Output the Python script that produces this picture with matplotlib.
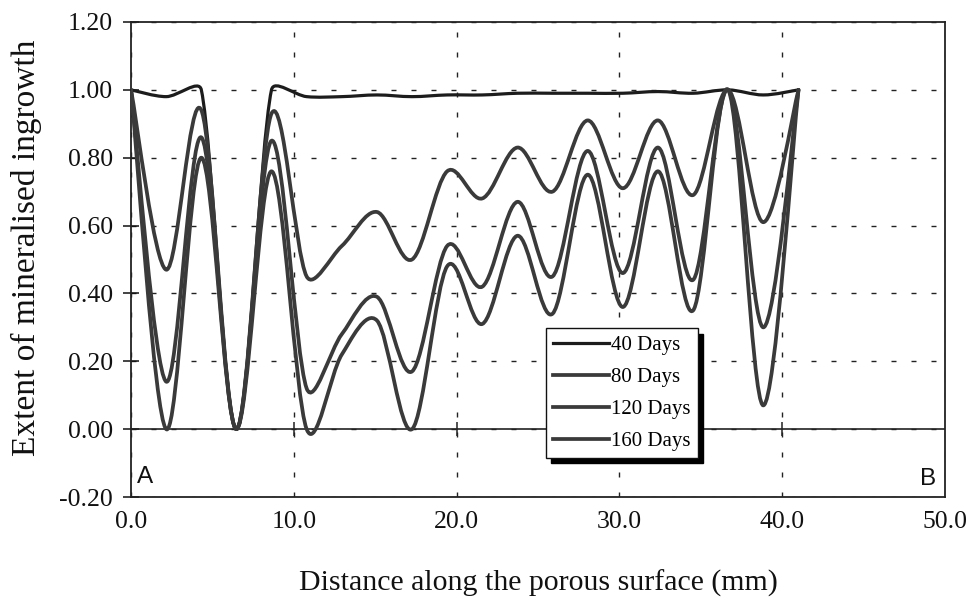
import numpy as np
import matplotlib
matplotlib.use('Agg')
import matplotlib.pyplot as plt
from matplotlib.path import Path
from matplotlib.patches import PathPatch
from matplotlib.lines import Line2D

# measured points along the surface (mm) and ingrowth extent per period
distance = [0.0, 2.16, 4.32, 6.47, 8.63, 10.79, 12.95, 15.11, 17.26, 19.42,
            21.58, 23.74, 25.89, 28.05, 30.21, 32.37, 34.53, 36.68, 38.84, 41.0]
days_40 = [1.00, 0.98, 1.00, 0.00, 1.00, 0.98, 0.98, 0.985, 0.98, 0.985,
           0.985, 0.99, 0.99, 0.99, 0.99, 0.995, 0.99, 1.00, 0.985, 1.00]
days_80 = [1.00, 0.47, 0.94, 0.00, 0.93, 0.45, 0.54, 0.64, 0.50, 0.76,
           0.68, 0.83, 0.70, 0.91, 0.71, 0.91, 0.69, 1.00, 0.61, 1.00]
days_120 = [1.00, 0.14, 0.86, 0.00, 0.85, 0.12, 0.28, 0.39, 0.17, 0.54,
            0.42, 0.67, 0.45, 0.82, 0.46, 0.83, 0.44, 1.00, 0.30, 1.00]
days_160 = [1.00, 0.00, 0.80, 0.00, 0.76, 0.00, 0.22, 0.32, 0.00, 0.48,
            0.31, 0.57, 0.34, 0.75, 0.36, 0.76, 0.35, 1.00, 0.07, 1.00]
series_labels = ['40 Days', '80 Days', '120 Days', '160 Days']
x_ticks = [0, 10, 20, 30, 40, 50]
y_ticks = [-0.2, 0.0, 0.2, 0.4, 0.6, 0.8, 1.0, 1.2]

serif = 'Liberation Serif'
plt.rcParams['font.family'] = [serif, 'DejaVu Serif']


def smooth_path(ax, xs, ys):
    # spreadsheet-style bezier smoothing through the points
    pts = np.column_stack([xs, ys]).astype(float)
    disp = ax.transData.transform(pts)
    n = len(pts)

    def dist(a, b):
        return np.hypot(*(disp[a] - disp[b]))

    verts = [pts[0]]
    codes = [Path.MOVETO]
    for i in range(n - 1):
        i0, i1, i2, i3 = max(i - 1, 0), i, i + 1, min(i + 2, n - 1)
        d12 = dist(i1, i2)
        d02 = dist(i0, i2)
        d13 = dist(i1, i3)
        r1 = min(d12 / d02, 0.5) if d02 > 0 else 0.5
        r2 = min(d12 / d13, 0.5) if d13 > 0 else 0.5
        c1 = pts[i1] + (pts[i2] - pts[i0]) * r1 / 3
        c2 = pts[i2] - (pts[i3] - pts[i1]) * r2 / 3
        verts += [c1, c2, pts[i2]]
        codes += [Path.CURVE4] * 3
    return Path(verts, codes)


fig = plt.figure(figsize=(9.73, 6.08), dpi=100)
ax = fig.add_axes([131 / 973, 111 / 608, 814 / 973, 475 / 608])
ax.set_xlim(0, 50)
ax.set_ylim(-0.2, 1.2)

ax.set_xticks(x_ticks)
ax.set_yticks(y_ticks)
ax.set_xticklabels(['%.1f' % v for v in x_ticks])
ax.set_yticklabels(['%.2f' % v for v in y_ticks])
ax.tick_params(axis='x', length=0, pad=10, labelsize=18.5, colors='#111111')
ax.tick_params(axis='y', direction='inout', length=11, width=1.1, pad=7.5,
               labelsize=18.5, colors='#111111')

ax.grid(True, color='#222222', linewidth=1.0, linestyle=(0, (3.6, 10.8)), zorder=0)
ax.set_axisbelow(True)
for sp in ax.spines.values():
    sp.set_linewidth(1.3)
    sp.set_color('#222222')

ax.axhline(0, color='#222222', linewidth=1.2, zorder=2)
ax.vlines(x_ticks[1:-1], -0.02, 0.02, color='#222222', linewidth=1.1, zorder=2)

colors = ['#1c1c1c', '#3a3a3a', '#3a3a3a', '#3a3a3a']
widths = [2.3, 2.7, 2.7, 2.7]
handles = []
for vals, lab, c, w in zip([days_40, days_80, days_120, days_160], series_labels, colors, widths):
    patch = PathPatch(smooth_path(ax, distance, vals), fill=False, edgecolor=c,
                      linewidth=w, capstyle='round', joinstyle='round', zorder=3)
    ax.add_patch(patch)
    handles.append(Line2D([], [], color=c, linewidth=w, label=lab))

leg = ax.legend(handles=handles, loc='upper left', bbox_to_anchor=(0.510, 0.355),
                borderaxespad=0, frameon=True, fancybox=False, framealpha=1,
                edgecolor='#111111', prop={'family': serif, 'size': 15},
                handlelength=2.65, handletextpad=0.12, labelspacing=0.59,
                borderpad=0.35,
                shadow={'ox': 3.8, 'oy': -3.8, 'color': 'black', 'alpha': 1})
leg.get_frame().set_linewidth(1.0)
leg.set_zorder(10)

ax.text(0.0074, 0.019, 'A', transform=ax.transAxes, family='Liberation Sans',
        fontsize=17.5, ha='left', va='bottom', color='#111111')
ax.text(0.989, 0.015, 'B', transform=ax.transAxes, family='Liberation Sans',
        fontsize=17.5, ha='right', va='bottom', color='#111111')

ax.set_xlabel('Distance along the porous surface (mm)', fontsize=21.5, color='#111111')
ax.set_ylabel('Extent of mineralised ingrowth', fontsize=24, color='#111111')
ax.xaxis.set_label_coords(0.5, -0.154)
ax.yaxis.set_label_coords(-0.109, 0.525)

fig.savefig('out.png', dpi=100)
